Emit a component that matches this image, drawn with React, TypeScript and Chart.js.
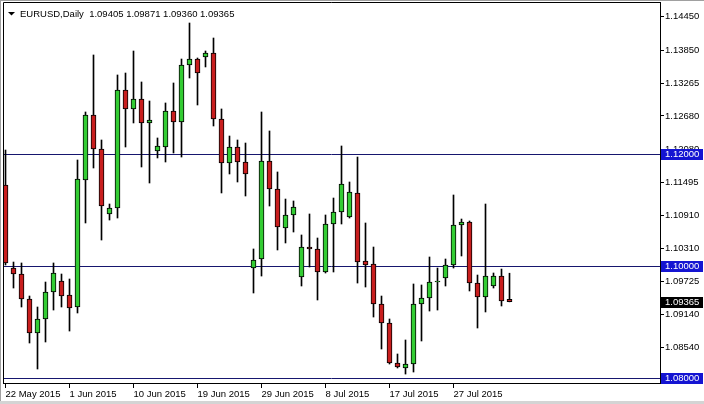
import React, { useEffect, useRef } from "react";
import { Chart, registerables } from "chart.js";

Chart.register(...registerables);

const SYMBOL_TEXT = "EURUSD,Daily";

const opens = [
  1.11446, 1.09964, 1.09857, 1.09411, 1.08804, 1.09054, 1.09536, 1.09732, 1.09482, 1.09268,
  1.11536, 1.12696, 1.12089, 1.10929, 1.11036, 1.13143, 1.12804, 1.12982, 1.12554, 1.12054,
  1.12125, 1.12768, 1.12571, 1.13589, 1.13696, 1.13732, 1.13804, 1.12625, 1.11839, 1.12125,
  1.11857, 1.09964, 1.10125, 1.11875, 1.11375, 1.10679, 1.10911, 1.09804, 1.10339, 1.10304,
  1.09893, 1.10750, 1.10964, 1.10875, 1.11304, 1.10089, 1.10036, 1.09321, 1.08982, 1.08268,
  1.08179, 1.08250, 1.09321, 1.09429, 1.09714, 1.09786, 1.10018, 1.10732, 1.10786, 1.09696,
  1.09446, 1.09643, 1.09821, 1.09405,
];
const highs = [
  1.12071, 1.10071, 1.10054, 1.09464, 1.09268, 1.09714, 1.10054, 1.09857, 1.09768, 1.11893,
  1.12750, 1.13768, 1.12250, 1.11107, 1.13411, 1.13446, 1.13839, 1.13286, 1.12946, 1.12286,
  1.12911, 1.13268, 1.13696, 1.14339, 1.13714, 1.13839, 1.14071, 1.12804, 1.12321, 1.12250,
  1.12196, 1.10304, 1.12750, 1.12411, 1.11679, 1.11196, 1.11161, 1.10554, 1.10929, 1.10500,
  1.10911, 1.11214, 1.12143, 1.11500, 1.11946, 1.10768, 1.10339, 1.09464, 1.09054, 1.08429,
  1.08679, 1.09679, 1.09661, 1.10161, 1.09964, 1.10125, 1.11268, 1.10839, 1.10804, 1.09839,
  1.11107, 1.09875, 1.09946, 1.09871,
];
const lows = [
  1.10018, 1.09607, 1.09268, 1.08625, 1.08161, 1.08643, 1.09214, 1.09268, 1.08839, 1.09161,
  1.10768, 1.11750, 1.10464, 1.10821, 1.10857, 1.12125, 1.12554, 1.11768, 1.11482, 1.11929,
  1.11857, 1.12018, 1.11946, 1.13357, 1.12875, 1.13554, 1.12500, 1.11304, 1.11643, 1.11500,
  1.11250, 1.09518, 1.09821, 1.11071, 1.10286, 1.10411, 1.10607, 1.09643, 1.09982, 1.09393,
  1.09875, 1.09893, 1.10750, 1.10857, 1.09696, 1.09625, 1.09089, 1.08518, 1.08250, 1.08179,
  1.08071, 1.08107, 1.08661, 1.09196, 1.09214, 1.09643, 1.09964, 1.10179, 1.09554, 1.08893,
  1.09179, 1.09607, 1.09286, 1.09360,
];
const closes = [
  1.10054, 1.09857, 1.09411, 1.08804, 1.09054, 1.09536, 1.09875, 1.09464, 1.09250, 1.11554,
  1.12696, 1.12089, 1.11071, 1.11036, 1.13143, 1.12804, 1.12982, 1.12554, 1.12607, 1.12143,
  1.12768, 1.12571, 1.13589, 1.13696, 1.13446, 1.13804, 1.12625, 1.11839, 1.12125, 1.11857,
  1.11643, 1.10107, 1.11875, 1.11375, 1.10696, 1.10911, 1.11054, 1.10339, 1.10304, 1.09893,
  1.10750, 1.10964, 1.11464, 1.11321, 1.10071, 1.10018, 1.09321, 1.08982, 1.08268, 1.08196,
  1.08250, 1.09321, 1.09429, 1.09714, 1.09732, 1.10018, 1.10732, 1.10786, 1.09696, 1.09446,
  1.09821, 1.09821, 1.09375, 1.09365,
];

const dateTickIndex = [0, 8, 16, 24, 32, 40, 48, 56];
const dateTickLabels = [
  "22 May 2015", "1 Jun 2015", "10 Jun 2015", "19 Jun 2015",
  "29 Jun 2015", "8 Jul 2015", "17 Jul 2015", "27 Jul 2015",
];
const priceTicks = [
  1.07955, 1.0854, 1.0914, 1.09725, 1.1031, 1.1091, 1.11495,
  1.1208, 1.1268, 1.13265, 1.1385, 1.1445,
];
const levelLines = [1.12, 1.1, 1.08];

const FONT = '"Liberation Sans", Arial, sans-serif';
const GREEN = "#33cc33";
const RED = "#c81e1e";
const NAVY = "#16166e";
const LABEL_BLUE = "#1414d2";

export default function App() {
  const canvasRef = useRef<HTMLCanvasElement | null>(null);

  useEffect(() => {
    document.body.style.margin = "0";
    document.body.style.overflow = "hidden";
    const canvas = canvasRef.current;
    if (!canvas) return;
    const n = closes.length;
    const last = n - 1;

    const decor = {
      id: "decor",
      beforeDatasetsDraw(chart: any) {
        const { ctx, chartArea: a, scales } = chart;
        const y = scales.y;
        ctx.save();
        ctx.strokeStyle = NAVY;
        ctx.lineWidth = 1;
        levelLines.forEach((v) => {
          const py = Math.round(y.getPixelForValue(v)) + 0.5;
          ctx.beginPath();
          ctx.moveTo(a.left, py);
          ctx.lineTo(a.right, py);
          ctx.stroke();
        });
        ctx.restore();
      },
      afterDraw(chart: any) {
        const { ctx, chartArea: a, scales } = chart;
        const y = scales.y;
        ctx.save();
        // plot frame (left / top)
        ctx.strokeStyle = "#000";
        ctx.lineWidth = 1;
        ctx.beginPath();
        ctx.moveTo(a.left + 0.5, a.bottom);
        ctx.lineTo(a.left + 0.5, a.top + 0.5);
        ctx.lineTo(a.right, a.top + 0.5);
        ctx.stroke();
        // window edges
        ctx.fillStyle = "#a0a0a0";
        ctx.fillRect(0, 0, chart.width, 1);
        ctx.fillRect(0, 0, 1, chart.height);
        ctx.fillStyle = "#d4d4d4";
        ctx.fillRect(0, chart.height - 3, chart.width, 3);
        // price labels boxes
        ctx.font = `9.5px ${FONT}`;
        ctx.textBaseline = "middle";
        ctx.textAlign = "left";
        const boxes = [
          ...levelLines.map((v) => ({ v, bg: LABEL_BLUE })),
          { v: closes[last], bg: "#000000" },
        ];
        boxes.forEach((b) => {
          const py = Math.round(y.getPixelForValue(b.v));
          ctx.fillStyle = b.bg;
          ctx.fillRect(a.right + 1, py - 5, 42, 11);
          ctx.fillStyle = "#ffffff";
          ctx.fillText(b.v.toFixed(5), a.right + 5, py + 0.5);
        });
        // header
        ctx.fillStyle = "#000";
        ctx.beginPath();
        ctx.moveTo(8, 12);
        ctx.lineTo(15, 12);
        ctx.lineTo(11.5, 15.5);
        ctx.closePath();
        ctx.fill();
        const header =
          `${SYMBOL_TEXT}  ${opens[last].toFixed(5)} ${highs[last].toFixed(5)} ` +
          `${lows[last].toFixed(5)} ${closes[last].toFixed(5)}`;
        ctx.fillText(header, 20, 14);
        ctx.restore();
      },
    };

    const chart = new Chart(canvas, {
      type: "bar",
      data: {
        datasets: [
          {
            label: "body",
            data: opens.map((o, i) => ({ x: i, y: [o, closes[i]] })) as any,
            backgroundColor: opens.map((o, i) => (closes[i] >= o ? GREEN : RED)),
            borderColor: "#000",
            borderWidth: 1,
            borderSkipped: false,
            barThickness: 5,
            grouped: false,
          } as any,
          {
            label: "wick",
            data: highs.map((h, i) => ({ x: i, y: [lows[i], h] })) as any,
            backgroundColor: "#000",
            borderWidth: 0,
            barThickness: 1,
            grouped: false,
          } as any,
        ],
      },
      options: {
        animation: false,
        responsive: false,
        devicePixelRatio: 1,
        layout: { padding: { left: 3, top: 2, right: 0, bottom: 0 } },
        plugins: {
          legend: { display: false },
          tooltip: { enabled: false },
        },
        scales: {
          x: {
            type: "linear",
            min: -0.3125,
            max: 81.8125,
            offset: false,
            grid: {
              display: true,
              drawOnChartArea: false,
              offset: false,
              tickLength: 5,
              color: "#000",
            },
            border: { display: true, color: "#000" },
            afterBuildTicks: (s: any) => {
              s.ticks = dateTickIndex.map((v) => ({ value: v }));
            },
            afterFit: (s: any) => {
              s.height = 21;
              s.paddingLeft = 0;
              s.paddingRight = 0;
            },
            ticks: {
              autoSkip: false,
              maxRotation: 0,
              minRotation: 0,
              align: "start",
              labelOffset: 0,
              padding: 1,
              color: "#000",
              font: { family: FONT, size: 9.5 },
              callback: (_v: any, idx: number) => dateTickLabels[idx],
            },
          },
          y: {
            type: "linear",
            position: "right",
            min: 1.07911,
            max: 1.14714,
            grid: {
              display: true,
              drawOnChartArea: false,
              tickLength: 4,
              color: "#000",
            },
            border: { display: true, color: "#000" },
            afterBuildTicks: (s: any) => {
              s.ticks = priceTicks.map((v) => ({ value: v }));
            },
            afterFit: (s: any) => {
              s.width = 44;
              s.paddingTop = 0;
              s.paddingBottom = 0;
            },
            ticks: {
              autoSkip: false,
              padding: 1,
              color: "#000",
              font: { family: FONT, size: 9.5 },
              callback: (v: any) => Number(v).toFixed(5),
            },
          },
        },
      },
      plugins: [decor],
    });

    return () => chart.destroy();
  }, []);

  return (
    <div style={{ width: 704, height: 404, background: "#fff" }}>
      <canvas ref={canvasRef} width={704} height={404} style={{ display: "block" }} />
    </div>
  );
}
